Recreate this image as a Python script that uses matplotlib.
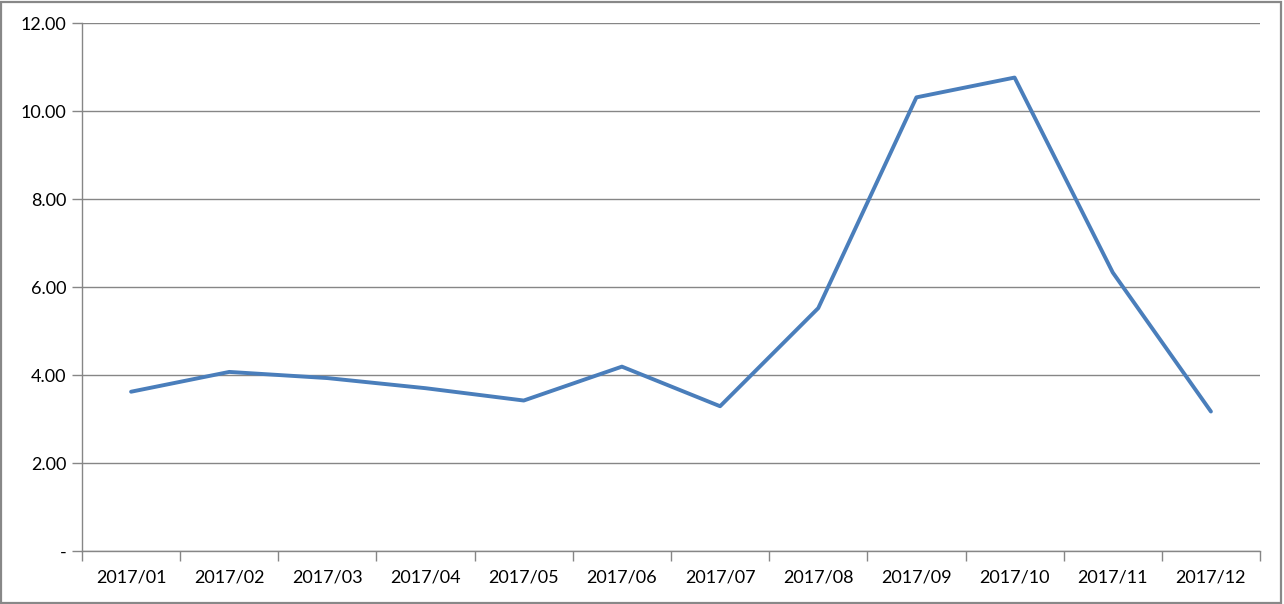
import matplotlib
matplotlib.use('Agg')
import numpy as np
import matplotlib.pyplot as plt
from matplotlib.patches import Rectangle
from matplotlib.ticker import FuncFormatter

months = ["2017/01", "2017/02", "2017/03", "2017/04", "2017/05", "2017/06",
          "2017/07", "2017/08", "2017/09", "2017/10", "2017/11", "2017/12"]
values = [3.62, 4.07, 3.93, 3.70, 3.42, 4.19, 3.29, 5.52, 10.31, 10.76, 6.33, 3.17]
yticks = [0, 2, 4, 6, 8, 10, 12]

plt.rcParams['font.family'] = ['Lato', 'DejaVu Sans']
grey = '#868686'

fig = plt.figure(figsize=(12.84, 6.04), dpi=100)
ax = fig.add_axes([82/1284, 1 - 551/604, (1260-82)/1284, (551-23)/604])

x = np.arange(len(months))
ax.plot(x, values, color='#4A7EBB', linewidth=2.8, solid_capstyle='round', zorder=3)

ax.set_xlim(-0.5, len(months) - 0.5)
ax.set_ylim(0, 12)

ax.set_xticks(x)
ax.set_xticklabels(months, fontsize=13)
ax.set_xticks(np.arange(len(months) + 1) - 0.5, minor=True)
ax.tick_params(axis='x', which='major', length=0, pad=13)
ax.tick_params(axis='x', which='minor', length=7, color=grey, width=1)

ax.set_yticks(yticks)
ax.yaxis.set_major_formatter(FuncFormatter(lambda v, p: '-' if v == 0 else '%.2f' % v))
ax.tick_params(axis='y', length=7, color=grey, width=1, labelsize=13, pad=4)

ax.grid(axis='y', color=grey, linewidth=1)
ax.set_axisbelow(True)
for s in ['top', 'right']:
    ax.spines[s].set_visible(False)
for s in ['left', 'bottom']:
    ax.spines[s].set_color(grey)
    ax.spines[s].set_linewidth(1)

fig.patches.append(Rectangle((0.001, 0.002), 0.997, 0.995, transform=fig.transFigure,
                             fill=False, edgecolor='#888888', linewidth=1.6))

fig.savefig('out.png', dpi=100)
